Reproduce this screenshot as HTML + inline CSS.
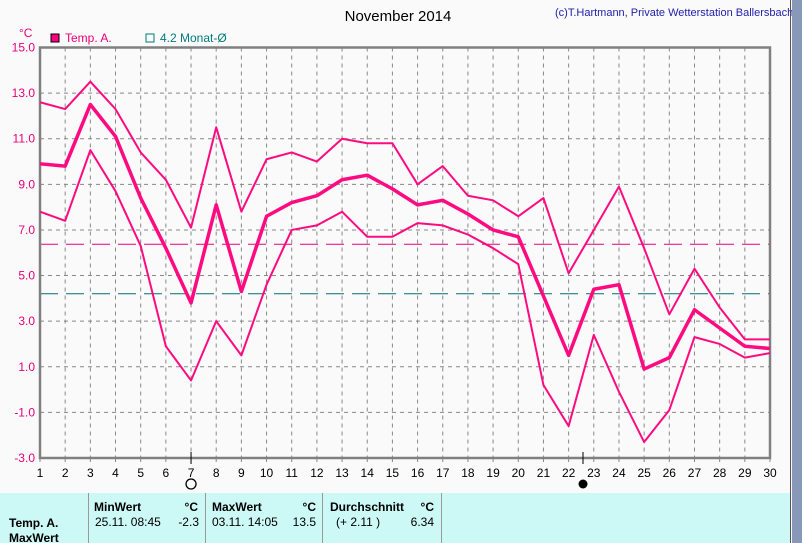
<!DOCTYPE html>
<html><head><meta charset="utf-8"><style>
body{margin:0;width:802px;height:543px;overflow:hidden;background:#fafafa;font-family:"Liberation Sans",sans-serif}
svg{position:absolute;left:0;top:0}
</style></head><body>
<svg id="s" width="802" height="543" xmlns="http://www.w3.org/2000/svg">
<rect width="802" height="543" fill="#fafafa"/>
<text x="398" y="21" font-size="15" text-anchor="middle" fill="#000">November 2014</text>
<text x="555" y="16" font-size="11" fill="#2222aa">(c)T.Hartmann, Private Wetterstation Ballersbach</text>
<text x="19" y="37" font-size="12" fill="#e8007a">°C</text>
<rect x="51" y="34" width="8" height="8" fill="#ff0080" stroke="#000" stroke-width="1"/>
<text x="65" y="42" font-size="12" fill="#e8007a">Temp. A.</text>
<rect x="146" y="34" width="8" height="8" fill="none" stroke="#007b7b" stroke-width="1"/>
<text x="160" y="42" font-size="12" fill="#007b7b">4.2 Monat-Ø</text>
<g id="g"></g>
<rect x="0" y="493" width="790" height="50" fill="#ccf8f6"/>
<g stroke="#999" stroke-width="1"><line x1="88.5" y1="493" x2="88.5" y2="543"/><line x1="205.5" y1="493" x2="205.5" y2="543"/><line x1="322.5" y1="493" x2="322.5" y2="543"/><line x1="441.5" y1="493" x2="441.5" y2="543"/></g>
<g font-size="12" fill="#000">
<text x="94" y="511" font-weight="bold">MinWert</text><text x="198" y="511" font-weight="bold" text-anchor="end">°C</text>
<text x="212" y="511" font-weight="bold">MaxWert</text><text x="316" y="511" font-weight="bold" text-anchor="end">°C</text>
<text x="330" y="511" font-weight="bold">Durchschnitt</text><text x="434" y="511" font-weight="bold" text-anchor="end">°C</text>
<text x="9" y="527" font-weight="bold">Temp. A.</text>
<text x="9" y="542" font-weight="bold">MaxWert</text>
<text x="95" y="526">25.11.  08:45</text><text x="199" y="526" text-anchor="end">-2.3</text>
<text x="212" y="526">03.11.  14:05</text><text x="316" y="526" text-anchor="end">13.5</text>
<text x="336" y="526">(+ 2.11 )</text><text x="434" y="526" text-anchor="end">6.34</text>
</g>
<line x1="790.5" y1="0" x2="790.5" y2="543" stroke="#555"/>
<rect x="792" y="0" width="10" height="543" fill="#8898b8"/>
</svg>
<script>
const g=document.getElementById("g");
const X=d=>40+(d-1)*(730/29),Y=v=>458-(v+3)*(410.5/18);
let h="";
for(let d=2;d<=29;d++)h+=`<line x1="${X(d)}" y1="47.5" x2="${X(d)}" y2="458" stroke="#888" stroke-dasharray="4 4"/>`;
for(let v=13;v>-3;v-=2)h+=`<line x1="40" y1="${Y(v)}" x2="770" y2="${Y(v)}" stroke="#888" stroke-dasharray="4 4"/>`;
for(let v=15;v>=-3;v-=2)h+=`<text x="35" y="${Y(v)+4}" font-size="12" fill="#e8007a" text-anchor="end">${v.toFixed(1)}</text>`;
for(let d=1;d<=30;d++){h+=`<text x="${X(d)}" y="477" font-size="12" text-anchor="middle">${d}</text><line x1="${X(d)}" y1="458" x2="${X(d)}" y2="462" stroke="#888"/>`;}
h+=`<line x1="40" y1="${Y(6.37)}" x2="770" y2="${Y(6.37)}" stroke="#e8007a" stroke-width="1" stroke-dasharray="18 8"/>`;
h+=`<line x1="40" y1="${Y(4.2)}" x2="770" y2="${Y(4.2)}" stroke="#007070" stroke-width="1" stroke-dasharray="18 8"/>`;
h+=`<rect x="40" y="47.5" width="730" height="410.5" fill="none" stroke="#808080" stroke-width="2.5"/>`;
const mx=[12.6,12.3,13.5,12.3,10.4,9.2,7.1,11.5,7.8,10.1,10.4,10.0,11.0,10.8,10.8,9.0,9.8,8.5,8.3,7.6,8.4,5.1,7.0,8.9,6.2,3.3,5.3,3.6,2.2,2.2];
const mn=[7.8,7.4,10.5,8.7,6.3,1.9,0.4,3.0,1.5,4.6,7.0,7.2,7.8,6.7,6.7,7.3,7.2,6.8,6.2,5.5,0.2,-1.6,2.4,-0.1,-2.3,-0.9,2.3,2.0,1.4,1.6];
const av=[9.9,9.8,12.5,11.1,8.4,6.2,3.8,8.1,4.3,7.6,8.2,8.5,9.2,9.4,8.8,8.1,8.3,7.7,7.0,6.7,4.1,1.5,4.4,4.6,0.9,1.4,3.5,2.7,1.9,1.8];
const pl=(a,w)=>`<polyline fill="none" stroke="#ff0a80" stroke-width="${w}" stroke-linejoin="round" points="${a.map((v,i)=>X(i+1)+","+Y(v)).join(" ")}"/>`;
h+=pl(mx,2)+pl(mn,2)+pl(av,3.5);
h+=`<line x1="${X(7)}" y1="452" x2="${X(7)}" y2="464" stroke="#000"/><circle cx="${X(7)}" cy="484" r="5" fill="none" stroke="#000" stroke-width="1.3"/>`;
h+=`<line x1="583" y1="452" x2="583" y2="464" stroke="#000"/><circle cx="583" cy="484" r="4.5" fill="#000"/>`;
g.innerHTML=h;
</script>
</body></html>
